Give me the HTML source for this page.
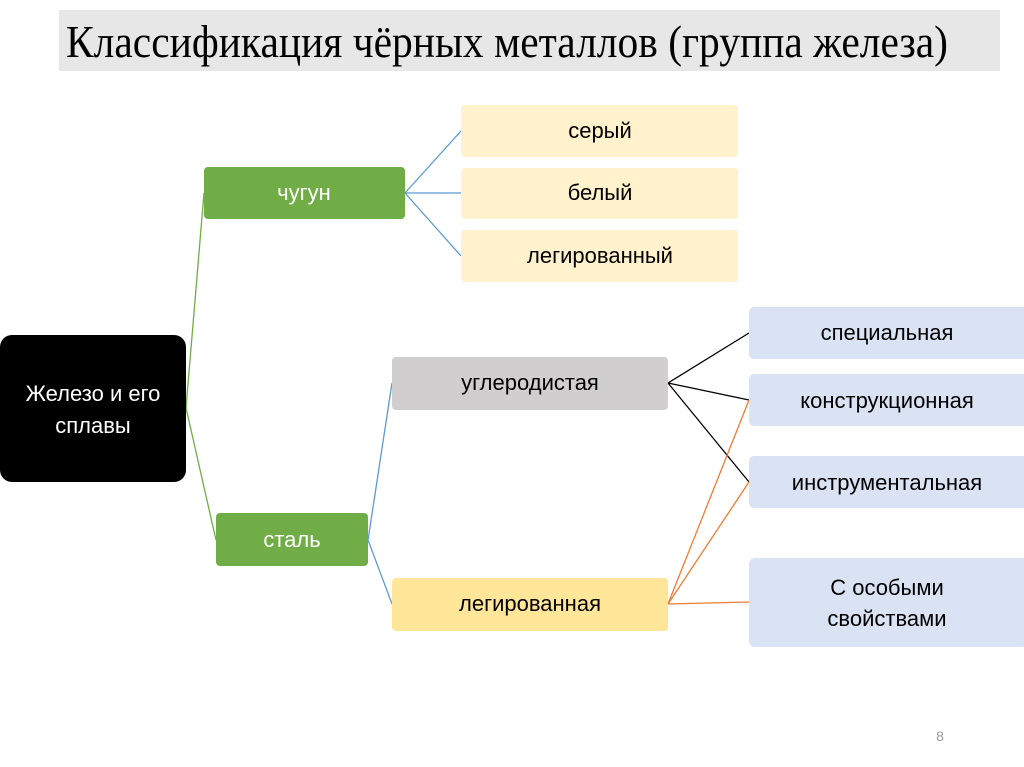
<!DOCTYPE html>
<html><head><meta charset="utf-8"><style>html,body{margin:0;padding:0;background:#fff}svg{display:block}</style></head>
<body>
<svg width="1024" height="767" viewBox="0 0 1024 767" xmlns="http://www.w3.org/2000/svg" font-family="Liberation Sans, DejaVu Sans, sans-serif">
<rect x="59" y="10" width="941" height="61" fill="#e7e7e7"/>
<text x="66" y="57" font-family="Liberation Serif, serif" font-size="46" textLength="882" lengthAdjust="spacingAndGlyphs" fill="#000">Классификация чёрных металлов (группа железа)</text>

<g fill="none" stroke-width="1.3">
<path d="M186 408 L204 193 M186 408 L216 540" stroke="#70ad47"/>
<path d="M405 193 L461 131 M405 193 L461 193 M405 193 L461 256" stroke="#5b9bd5"/>
<path d="M368 540 L392 383 M368 540 L392 604" stroke="#5b9bd5"/>
<path d="M668 383 L749 333 M668 383 L749 400 M668 383 L749 482" stroke="#000"/>
<path d="M668 604 L749 400 M668 604 L749 482 M668 604 L749 602" stroke="#ed7d31"/>
</g>

<rect x="0" y="335" width="186" height="147" rx="12" fill="#000"/>
<text x="93" y="401" font-size="22" fill="#fff" text-anchor="middle">Железо и его</text>
<text x="93" y="433" font-size="22" fill="#fff" text-anchor="middle">сплавы</text>

<g font-size="22" text-anchor="middle">
<rect x="204" y="167" width="201" height="52" rx="4" fill="#70ad47"/>
<text x="304" y="200" fill="#fff">чугун</text>
<rect x="216" y="513" width="152" height="53" rx="4" fill="#70ad47"/>
<text x="292" y="547" fill="#fff">сталь</text>

<rect x="461" y="105" width="277" height="52" rx="4" fill="#fff2cc"/>
<text x="600" y="138" fill="#000">серый</text>
<rect x="461" y="168" width="277" height="51" rx="4" fill="#fff2cc"/>
<text x="600" y="200" fill="#000">белый</text>
<rect x="461" y="230" width="277" height="52" rx="4" fill="#fff2cc"/>
<text x="600" y="263" fill="#000">легированный</text>

<rect x="392" y="357" width="276" height="53" rx="4" fill="#d0cece"/>
<text x="530" y="390" fill="#000">углеродистая</text>
<rect x="392" y="578" width="276" height="53" rx="4" fill="#ffe699"/>
<text x="530" y="611" fill="#000">легированная</text>

<rect x="749" y="307" width="280" height="52" rx="5" fill="#dae3f3"/>
<text x="887" y="340" fill="#000">специальная</text>
<rect x="749" y="374" width="280" height="52" rx="5" fill="#dae3f3"/>
<text x="887" y="408" fill="#000">конструкционная</text>
<rect x="749" y="456" width="280" height="52" rx="5" fill="#dae3f3"/>
<text x="887" y="490" fill="#000">инструментальная</text>
<rect x="749" y="558" width="280" height="89" rx="6" fill="#dae3f3"/>
<text x="887" y="595" fill="#000">С особыми</text>
<text x="887" y="626" fill="#000">свойствами</text>
</g>
<text x="940" y="741" font-size="14" fill="#999" text-anchor="middle">8</text>
</svg>
</body></html>
